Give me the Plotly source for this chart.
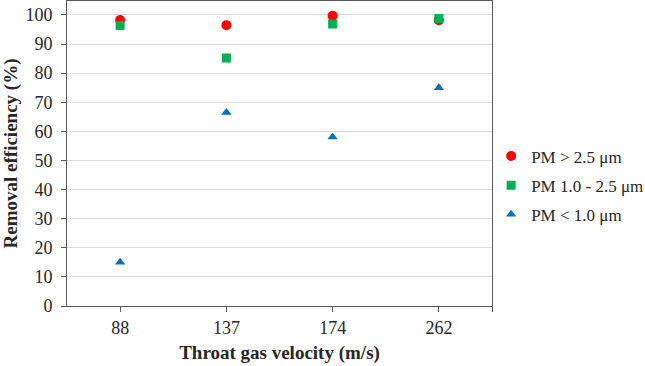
import plotly.graph_objects as go

velocities = ["88", "137", "174", "262"]
pm_coarse = [98.3, 96.5, 99.7, 98.2]
pm_mid = [96.4, 85.2, 96.9, 98.8]
pm_fine = [15.0, 66.5, 58.1, 75.0]

series = [
    ("PM > 2.5 μm", pm_coarse, "circle", "#ff0000", 10),
    ("PM 1.0 - 2.5 μm", pm_mid, "square", "#00b050", 9),
    ("PM < 1.0 μm", pm_fine, "triangle-up", "#0070c0", 9),
]

xpos = list(range(len(velocities)))
fig = go.Figure()
for i, (name, vals, sym, col, sz) in enumerate(series):
    fig.add_trace(go.Scatter(
        x=xpos, y=vals, mode="markers", name=name, legendgroup=f"g{i}",
        marker=dict(symbol=sym, color=col, size=sz, line=dict(width=0)),
    ))

font = "Times New Roman, Liberation Serif, serif"
fig.update_layout(
    width=645, height=366,
    margin=dict(l=67, r=153, t=1, b=60, autoexpand=False),
    paper_bgcolor="white", plot_bgcolor="white",
    font=dict(family=font, size=18, color="#262626"),
    showlegend=True,
    legend=dict(x=0.998, y=0.395, xanchor="left", yanchor="middle",
                bgcolor="rgba(0,0,0,0)",
                traceorder="grouped", tracegroupgap=4,
                font=dict(family=font, size=17, color="#262626"),
                itemwidth=30),
    xaxis=dict(
        range=[-0.5, 3.5], tickmode="array",
        tickvals=xpos + [3.5], ticktext=velocities + [""],
        ticks="outside", ticklen=5, tickcolor="#595959",
        showgrid=False, showline=True, linecolor="#595959", linewidth=1,
        mirror=True, zeroline=False, automargin=False,
        title=dict(text="<b>Throat gas velocity (m/s)</b>", standoff=9,
                   font=dict(family=font, size=19, color="#262626")),
    ),
    yaxis=dict(
        range=[0, 104.8], tickmode="array", tickvals=list(range(0, 101, 10)),
        ticks="outside", ticklen=5, tickcolor="#595959",
        ticklabelstandoff=5,
        showgrid=True, gridcolor="#d9d9d9", gridwidth=1,
        showline=True, linecolor="#595959", linewidth=1, mirror=True,
        zeroline=False, automargin=False,
        title=dict(text="<b>Removal efficiency (%)</b>", standoff=7,
                   font=dict(family=font, size=19, color="#262626")),
    ),
)

fig.write_html("out.html", config={"displayModeBar": False},
               post_script="document.body.style.margin='0';")
